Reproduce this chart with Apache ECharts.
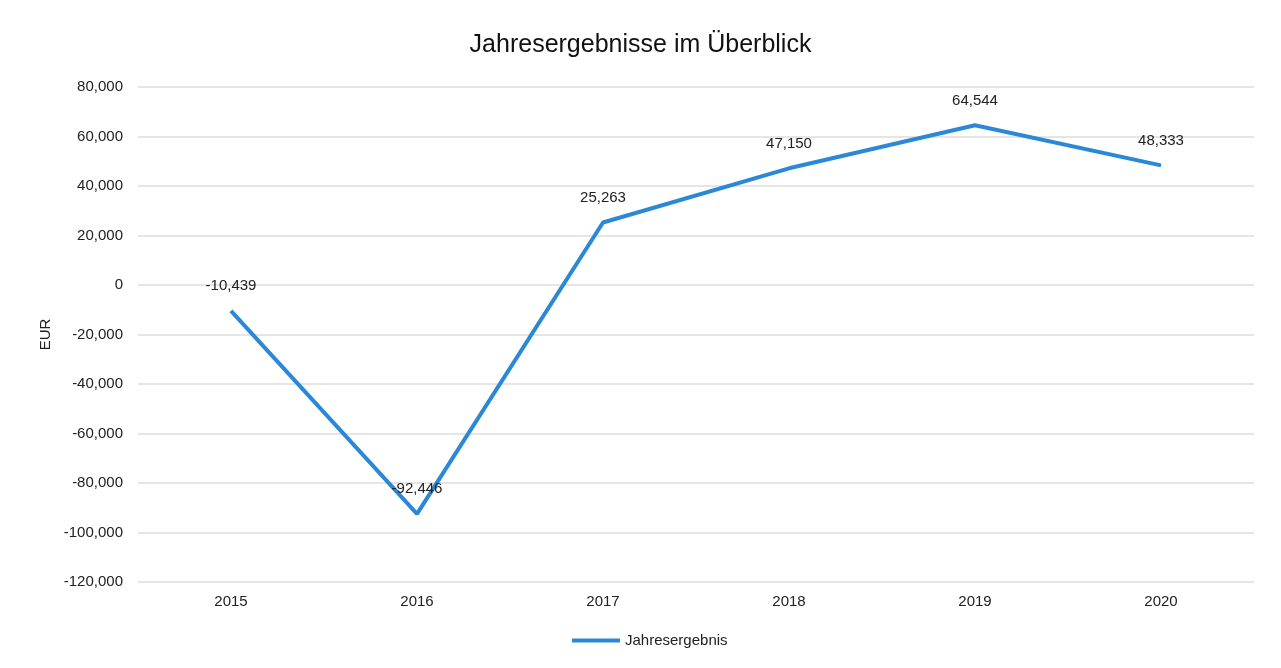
<!DOCTYPE html>
<html>
<head>
<meta charset="utf-8">
<script src="https://cdn.jsdelivr.net/npm/echarts@6/dist/echarts.min.js"></script>
<style>
html, body { margin: 0; padding: 0; background: #fff; }
#main { width: 1281px; height: 668px; }
</style>
</head>
<body>
<div id="main"></div>
<script>
var jahre = ['2015', '2016', '2017', '2018', '2019', '2020'];
var ergebnis = [-10439, -92446, 25263, 47150, 64544, 48333];

function fmt(v) {
    var s = Math.abs(v).toString().replace(/\B(?=(\d{3})+(?!\d))/g, ',');
    return (v < 0 ? '-' : '') + s;
}

var chart = echarts.init(document.getElementById('main'));
var option = {
    backgroundColor: '#fff',
    title: {
        text: 'Jahresergebnisse im Überblick',
        left: 'center',
        top: 28,
        textStyle: {
            fontFamily: 'Liberation Sans',
            fontSize: 25,
            fontWeight: 'normal',
            color: '#111'
        }
    },
    legend: {
        bottom: 15,
        left: 567,
        itemWidth: 48,
        itemHeight: 4,
        itemGap: 5,
        icon: 'rect',
        textStyle: {
            fontFamily: 'Liberation Sans',
            fontSize: 15,
            color: '#222'
        },
        data: ['Jahresergebnis']
    },
    grid: {
        left: 138,
        right: 27,
        top: 87,
        bottom: 86
    },
    xAxis: {
        type: 'category',
        data: jahre,
        boundaryGap: true,
        axisLine: { show: false },
        axisTick: { show: false },
        axisLabel: {
            margin: 12,
            fontFamily: 'Liberation Sans',
            fontSize: 15,
            color: '#222'
        }
    },
    yAxis: {
        type: 'value',
        min: -120000,
        max: 80000,
        interval: 20000,
        name: 'EUR',
        nameLocation: 'middle',
        nameGap: 79,
        nameTextStyle: {
            fontFamily: 'Liberation Sans',
            fontSize: 15,
            color: '#222'
        },
        axisLine: { show: false },
        axisTick: { show: false },
        axisLabel: {
            margin: 15,
            fontFamily: 'Liberation Sans',
            fontSize: 15,
            color: '#222',
            formatter: fmt
        },
        splitLine: {
            lineStyle: { color: '#dcdcdc', width: 1.5 }
        }
    },
    series: [{
        name: 'Jahresergebnis',
        type: 'line',
        data: ergebnis,
        symbol: 'circle',
        symbolSize: 0.1,
        showSymbol: true,
        color: '#2b88d6',
        lineStyle: { width: 4, color: '#2b88d6' },
        label: {
            show: true,
            position: 'top',
            distance: 17,
            fontFamily: 'Liberation Sans',
            fontSize: 15,
            color: '#222',
            formatter: function (p) { return fmt(p.value); }
        }
    }]
};
chart.setOption(option);
</script>
</body>
</html>
